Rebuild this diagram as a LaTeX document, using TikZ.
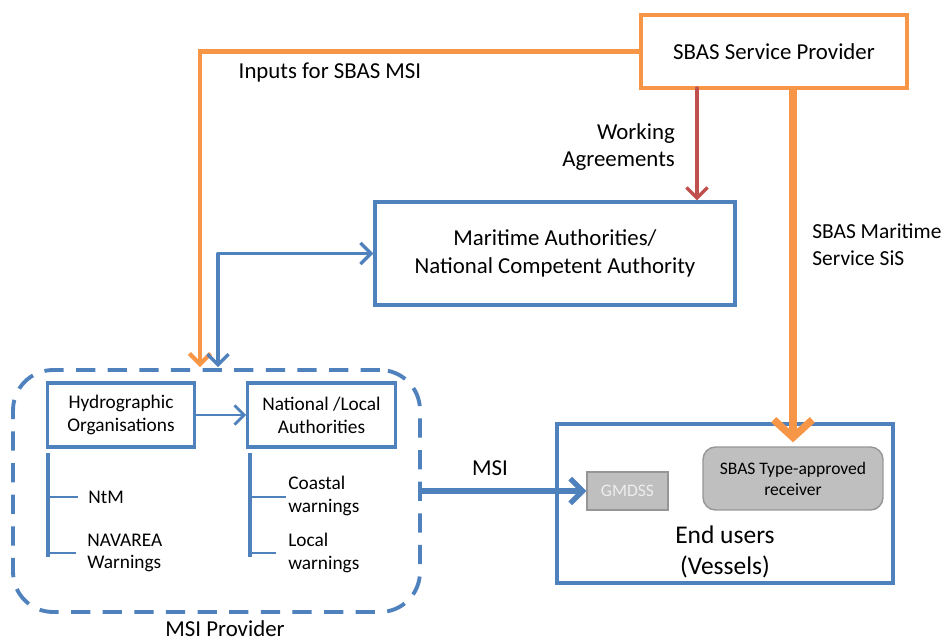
\documentclass[tikz,border=0pt]{standalone}
\usepackage{fontspec}
\setmainfont{Carlito}
\usetikzlibrary{arrows.meta}
\definecolor{sbasorange}{RGB}{247,150,70}
\definecolor{msiblue}{RGB}{79,129,189}
\definecolor{agred}{RGB}{192,80,77}
\definecolor{boxgrey}{RGB}{191,191,191}
\definecolor{rimgrey}{RGB}{150,150,150}
\begin{document}
\begin{tikzpicture}[x=0.02cm,y=-0.02cm]
    \tikzstyle{bigbox}=[draw=msiblue,line width=1.9pt,align=center,font=\fontsize{13}{15.5}\selectfont]
    \tikzstyle{smallbox}=[draw=msiblue,line width=1.9pt,align=center,font=\fontsize{11}{13}\selectfont,minimum width=2.95cm,minimum height=1.28cm]
    \tikzstyle{greybox}=[draw=rimgrey,fill=boxgrey,line width=0.8pt,align=center,font=\fontsize{10}{12}\selectfont]
    \tikzstyle{leaf}=[anchor=west,align=left,inner sep=0pt,font=\fontsize{11}{13}\selectfont]
    \tikzstyle{lbl}=[align=center,font=\fontsize{13}{15.5}\selectfont]
    \tikzstyle{bluearrow}=[draw=msiblue,line width=1.9pt,line cap=round,line join=round,arrows={Straight Barb[length=6pt,width=12pt]-Straight Barb[length=6pt,width=12pt]}]
    \useasboundingbox (0,0) rectangle (950,642);
    % boxes
    \node (sbas)[draw=sbasorange,line width=2.4pt,minimum width=5.32cm,minimum height=1.46cm,font=\fontsize{13}{15.5}\selectfont] at (774,51.5) {SBAS Service Provider};
    \node (mar)[bigbox,minimum width=7.2cm,minimum height=2.06cm] at (555,253.5) {Maritime Authorities/\\National Competent Authority};
    \node (msiprov)[draw=msiblue,line width=2.2pt,dash pattern=on 11pt off 7pt,rounded corners=0.8cm,minimum width=8.14cm,minimum height=4.84cm] at (216.5,491) {};
    \node (hydro)[smallbox] at (121,415) {Hydrographic\\Organisations};
    \node (natloc)[smallbox] at (321.5,415) {National /Local\\Authorities};
    \node (endu)[draw=msiblue,line width=1.9pt,minimum width=6.72cm,minimum height=3.18cm] at (725,503.5) {};
    \node (gmdss)[greybox,text=white!93!black,minimum width=1.62cm,minimum height=0.76cm] at (627.5,491) {GMDSS};
    \node (rcv)[greybox,rounded corners=0.25cm,minimum width=3.6cm,minimum height=1.26cm] at (793,478.5) {SBAS Type-approved\\receiver};
    \node (endlbl)[lbl,font=\fontsize{14.5}{17.5}\selectfont] at (725,552) {End users\\(Vessels)};
    \node (provlbl)[lbl] at (225,629) {MSI Provider};
    % free ends above the MSI provider
    \coordinate (inorange) at (200,367);
    \coordinate (inblue) at (218,367);
    \coordinate (agtop) at (697,88);
    % connectors
    \draw [sbasorange,line width=2.4pt,line cap=round,-{Straight Barb[length=6pt,width=12pt]}] (sbas.west) -| (inorange);
    \draw [bluearrow] (inblue) |- (mar.west);
    \draw [agred,line width=1.9pt,line cap=round,-{Straight Barb[length=6pt,width=12pt]}] (agtop) -- (agtop |- mar.north);
    \draw [sbasorange,line width=4.2pt,line cap=round,-{Straight Barb[length=10pt,width=22pt]}] (sbas.south -| rcv.north) -- ([yshift=0.08cm]rcv.north);
    \draw [draw=msiblue,line width=1.6pt,line cap=round,-{Straight Barb[length=5.5pt,width=11pt]}] (hydro.east) -- (natloc.west);
    \draw [draw=msiblue,line width=3pt,-{Straight Barb[length=7pt,width=14pt]}] (msiprov.east) -- (gmdss.west);
    % lists under the two organisations
    \draw [msiblue,line width=1.9pt] (48,453) -- (48,557);
    \draw [msiblue,line width=0.7pt] (48,497) -- (78,497);
    \draw [msiblue,line width=0.7pt] (48,553) -- (76,553);
    \draw [msiblue,line width=1.9pt] (250,453) -- (250,557);
    \draw [msiblue,line width=0.7pt] (250,497) -- (286,497);
    \draw [msiblue,line width=0.7pt] (250,553) -- (276,553);
    \node (ntm)[leaf] at (88,497) {NtM};
    \node (navarea)[leaf] at (87,553) {NAVAREA\\Warnings};
    \node (coastal)[leaf] at (288,496) {Coastal\\warnings};
    \node (local)[leaf] at (288,553) {Local\\warnings};
    % labels
    \node (inlbl)[lbl] at (330,73) {Inputs for SBAS MSI};
    \node (walbl)[lbl,anchor=east,align=right] at (681,147) {Working\\Agreements};
    \node (sislbl)[lbl,anchor=west,align=left,inner sep=0pt,font=\fontsize{12.2}{15.5}\selectfont] at (812,245) {SBAS Maritime\\Service SiS};
    \node (msilbl)[lbl] at (490,468) {MSI};
\end{tikzpicture}
\end{document}
